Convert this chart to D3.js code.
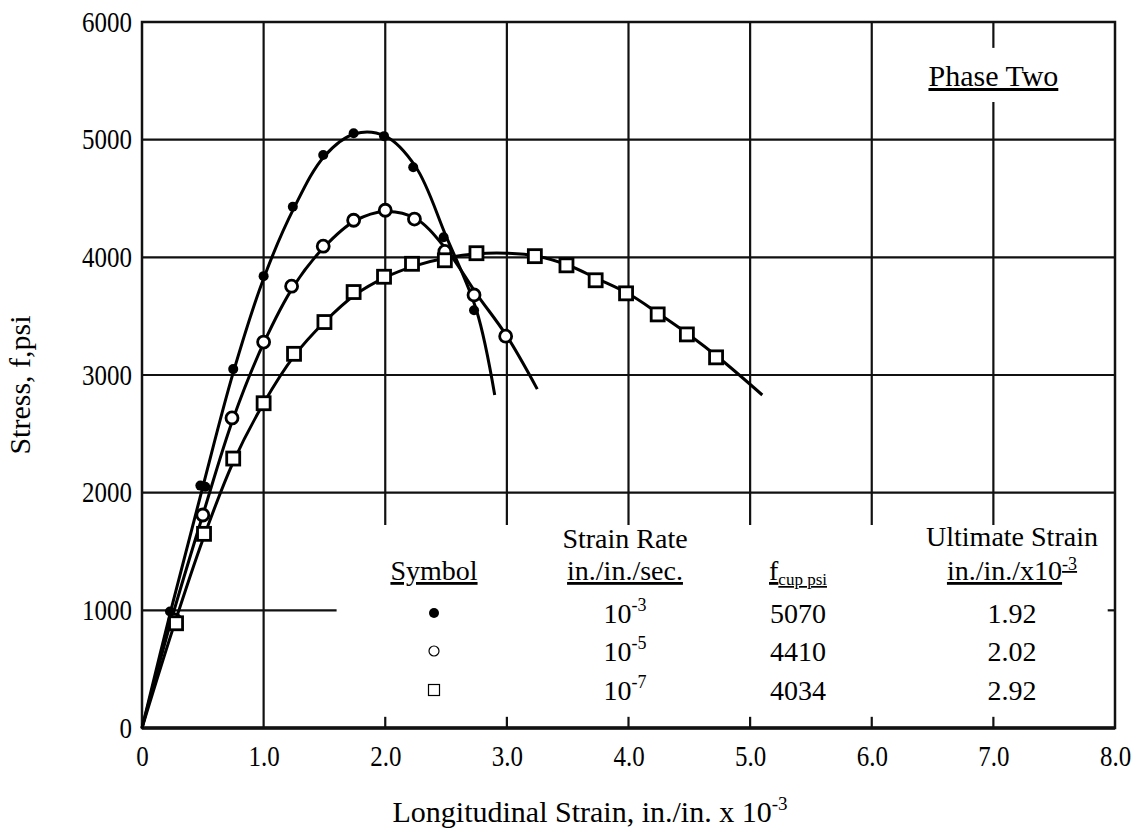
<!DOCTYPE html>
<html>
<head>
<meta charset="utf-8">
<script src="https://cdn.jsdelivr.net/npm/d3@7"></script>
<style>
    body { margin: 0; background: #fff; }
    svg text { font-family: "Liberation Serif", "Times New Roman", serif; fill: #000; }
</style>
</head>
<body>
<svg id="chart" width="1140" height="839"></svg>
<script>
// axis ticks
const xTicks = [0, 1, 2, 3, 4, 5, 6, 7, 8];
const xTickLabels = ["0", "1.0", "2.0", "3.0", "4.0", "5.0", "6.0", "7.0", "8.0"];
const yTicks = [0, 1000, 2000, 3000, 4000, 5000, 6000];

// measured points [strain x10^-3, stress psi]
const rate3Points = [[0.23, 990], [0.48, 2060], [0.52, 2050], [0.75, 3050], [1.0, 3840], [1.24, 4430],
                     [1.49, 4870], [1.74, 5055], [1.99, 5030], [2.23, 4766], [2.48, 4170], [2.73, 3550]];
const rate5Points = [[0.27, 918], [0.5, 1810], [0.74, 2635], [1.0, 3280], [1.23, 3755], [1.49, 4095],
                     [1.74, 4315], [2.0, 4400], [2.24, 4325], [2.49, 4050], [2.73, 3680], [2.99, 3330]];
const rate7Points = [[0.28, 890], [0.51, 1650], [0.75, 2290], [1.0, 2760], [1.25, 3180], [1.5, 3450],
                     [1.74, 3705], [1.99, 3835], [2.22, 3945], [2.49, 3975], [2.75, 4035], [3.23, 4010],
                     [3.49, 3932], [3.73, 3805], [3.98, 3694], [4.24, 3515], [4.48, 3345], [4.72, 3150]];

// fitted curves
const rate3Curve = [[0, 0], [0.25, 1050], [0.5, 2050], [0.75, 3020], [1.0, 3820], [1.25, 4420], [1.5, 4860],
                    [1.75, 5050], [2.0, 5030], [2.25, 4770], [2.5, 4180], [2.75, 3550], [2.9, 2830]];
const rate5Curve = [[0, 0], [0.25, 950], [0.5, 1810], [0.75, 2630], [1.0, 3270], [1.25, 3760], [1.5, 4090],
                    [1.75, 4310], [2.0, 4390], [2.25, 4330], [2.5, 4070], [2.75, 3690], [3.0, 3330], [3.25, 2880]];
const rate7Curve = [[0, 0], [0.25, 830], [0.5, 1600], [0.75, 2260], [1.0, 2760], [1.25, 3160], [1.5, 3450],
                    [1.75, 3680], [2.0, 3830], [2.25, 3930], [2.5, 3995], [2.75, 4030], [3.0, 4035], [3.25, 4010],
                    [3.5, 3935], [3.75, 3815], [4.0, 3690], [4.25, 3520], [4.5, 3340], [4.75, 3140], [5.1, 2830]];

// legend table
const legendSymbols = ["filled", "open", "square"];
const legendRateExp = ["-3", "-5", "-7"];
const legendFcup = ["5070", "4410", "4034"];
const legendUltimate = ["1.92", "2.02", "2.92"];

class StressStrainChart {
    constructor(svgId) {
        this.svg = d3.select(svgId);
        this.plot = {left: 142, right: 1115, top: 22, bottom: 728};
        this.tickSize = 29;
        this.fontSize = 28;
        this.titleSize = 30;
    }

    init() {
        this.xScale = d3.scaleLinear().domain([0, 8]).range([this.plot.left, this.plot.right]);
        this.yScale = d3.scaleLinear().domain([0, 6000]).range([this.plot.bottom, this.plot.top]);
        this.line = d3.line()
            .x(d => this.xScale(d[0]))
            .y(d => this.yScale(d[1]))
            .curve(d3.curveCatmullRom.alpha(0.5));

        this._drawGrid();
        this._drawAxis();
        this._drawSeries(rate3Curve, rate3Points, "filled");
        this._drawSeries(rate5Curve, rate5Points, "open");
        this._drawSeries(rate7Curve, rate7Points, "square");
        this._drawLegend();
    }

    // narrow the glyphs a little, the scan looks like condensed Times
    _condense(sel, k) {
        sel.each(function() {
            const w = this.getComputedTextLength();
            d3.select(this).attr("textLength", w * k).attr("lengthAdjust", "spacingAndGlyphs");
        });
    }

    _drawGrid() {
        // grid segments (some interrupted by legend / label)
        const hGrid = [
            {v: 1000, a: 0, b: 1.6}, {v: 1000, a: 7.94, b: 8},
            {v: 2000, a: 0, b: 8}, {v: 3000, a: 0, b: 8}, {v: 4000, a: 0, b: 8}, {v: 5000, a: 0, b: 8}
        ];
        const vGrid = [{v: 1, a: 0, b: 6000}];
        [2, 3, 4, 5, 6].forEach(v => {
            vGrid.push({v: v, a: 1725, b: 6000});
            vGrid.push({v: v, a: 0, b: 95});
        });
        vGrid.push({v: 7, a: 1725, b: 5320}, {v: 7, a: 5780, b: 6000}, {v: 7, a: 0, b: 95});

        const g = this.svg.append("g").attr("class", "grid")
            .style("stroke", "#111").style("stroke-width", 2.2);
        g.selectAll("line.h")
            .data(hGrid)
            .join("line")
            .attr("class", "h")
            .attr("x1", d => this.xScale(d.a))
            .attr("x2", d => this.xScale(d.b))
            .attr("y1", d => this.yScale(d.v))
            .attr("y2", d => this.yScale(d.v));
        g.selectAll("line.v")
            .data(vGrid)
            .join("line")
            .attr("class", "v")
            .attr("x1", d => this.xScale(d.v))
            .attr("x2", d => this.xScale(d.v))
            .attr("y1", d => this.yScale(d.a))
            .attr("y2", d => this.yScale(d.b));
    }

    _drawAxis() {
        // frame
        this.svg.append("rect")
            .attr("x", this.xScale(0))
            .attr("y", this.yScale(6000))
            .attr("width", this.xScale(8) - this.xScale(0))
            .attr("height", this.yScale(0) - this.yScale(6000))
            .style("fill", "none")
            .style("stroke", "#111")
            .style("stroke-width", 2.5);
        this.svg.append("line")
            .attr("x1", this.xScale(0)).attr("x2", this.xScale(8))
            .attr("y1", this.yScale(0)).attr("y2", this.yScale(0))
            .style("stroke", "#111").style("stroke-width", 3.5);

        const xAxis = this.svg.append("g")
            .attr("transform", `translate(0, ${this.plot.bottom})`)
            .call(d3.axisBottom(this.xScale).tickValues(xTicks).tickSize(0).tickPadding(17)
                .tickFormat((d, i) => xTickLabels[i]));
        const yAxis = this.svg.append("g")
            .attr("transform", `translate(${this.plot.left}, 0)`)
            .call(d3.axisLeft(this.yScale).tickValues(yTicks).tickSize(0).tickPadding(10)
                .tickFormat(d3.format("d")));
        [xAxis, yAxis].forEach(a => {
            a.select(".domain").remove();
            a.selectAll("text")
                .style("font-family", "'Liberation Serif', serif")
                .style("font-size", `${this.tickSize}px`);
            this._condense(a.selectAll("text"), 0.86);
        });

        // axis titles
        const xt = this.svg.append("text")
            .attr("x", 590)
            .attr("y", 822)
            .attr("text-anchor", "middle")
            .style("font-size", `${this.titleSize}px`)
            .text("Longitudinal Strain, in./in. x 10");
        xt.append("tspan").attr("dy", -12).style("font-size", "19px").text("-3");

        this.svg.append("text")
            .attr("transform", "translate(30, 385) rotate(-90)")
            .attr("text-anchor", "middle")
            .style("font-size", `${this.titleSize}px`)
            .text("Stress, f,psi");

        this.svg.append("text")
            .attr("x", this.xScale(7))
            .attr("y", 86)
            .attr("text-anchor", "middle")
            .style("font-size", "30px")
            .style("text-decoration", "underline")
            .text("Phase Two");
    }

    _drawMarkers(g, points, type, cx, cy, big) {
        if (type === "square") {
            const s = big ? 13 : 11;
            g.selectAll("rect.mk")
                .data(points)
                .join("rect")
                .attr("class", "mk")
                .attr("x", d => cx(d) - s / 2)
                .attr("y", d => cy(d) - s / 2)
                .attr("width", s)
                .attr("height", s)
                .style("fill", "white")
                .style("stroke", "#000")
                .style("stroke-width", big ? 2.8 : 1.2);
        } else {
            g.selectAll("circle.mk")
                .data(points)
                .join("circle")
                .attr("class", "mk")
                .attr("cx", cx)
                .attr("cy", cy)
                .attr("r", type === "filled" ? 5 : (big ? 6 : 5))
                .style("fill", type === "filled" ? "#000" : "white")
                .style("stroke", "#000")
                .style("stroke-width", type === "filled" ? 0 : (big ? 2.8 : 1.2));
        }
    }

    _drawSeries(curve, points, type) {
        const g = this.svg.append("g").attr("class", `series-${type}`);
        g.append("path")
            .datum(curve)
            .attr("d", this.line)
            .style("fill", "none")
            .style("stroke", "#000")
            .style("stroke-width", 3);
        this._drawMarkers(g, points, type, d => this.xScale(d[0]), d => this.yScale(d[1]), true);
    }

    _drawLegend() {
        const cols = {symbol: 434, rate: 625, fcup: 798, ult: 1012};
        const rowY = [613, 651, 690];
        const g = this.svg.append("g").attr("class", "legend")
            .style("font-size", `${this.fontSize}px`)
            .attr("text-anchor", "middle");

        // headers
        g.append("text").attr("x", cols.symbol).attr("y", 580)
            .style("text-decoration", "underline").text("Symbol");
        g.append("text").attr("x", cols.rate).attr("y", 548).text("Strain Rate");
        g.append("text").attr("x", cols.rate).attr("y", 580)
            .style("text-decoration", "underline").text("in./in./sec.");
        const f = g.append("text").attr("x", cols.fcup).attr("y", 580)
            .style("text-decoration", "underline").text("f");
        f.append("tspan").attr("dy", 5).style("font-size", "17px").text("cup psi");
        g.append("text").attr("x", cols.ult).attr("y", 546).text("Ultimate Strain");
        const u = g.append("text").attr("x", cols.ult).attr("y", 580)
            .style("text-decoration", "underline").text("in./in./x10");
        u.append("tspan").attr("dy", -10).style("font-size", "18px").text("-3");

        // rows
        legendSymbols.forEach((type, i) => {
            const row = g.append("g");
            this._drawMarkers(row, [0], type, () => cols.symbol, () => rowY[i], false);
        });
        g.selectAll("text.rate")
            .data(legendRateExp)
            .join("text")
            .attr("class", "rate")
            .attr("x", cols.rate)
            .attr("y", (d, i) => rowY[i] + 10)
            .text("10")
            .append("tspan")
            .attr("dy", -12)
            .style("font-size", "18px")
            .text(d => d);
        g.selectAll("text.fcup")
            .data(legendFcup)
            .join("text")
            .attr("class", "fcup")
            .attr("x", cols.fcup)
            .attr("y", (d, i) => rowY[i] + 10)
            .text(d => d);
        g.selectAll("text.ult")
            .data(legendUltimate)
            .join("text")
            .attr("class", "ult")
            .attr("x", cols.ult)
            .attr("y", (d, i) => rowY[i] + 10)
            .text(d => d);
    }
}

const chart = new StressStrainChart("#chart");
chart.init();
</script>
</body>
</html>
